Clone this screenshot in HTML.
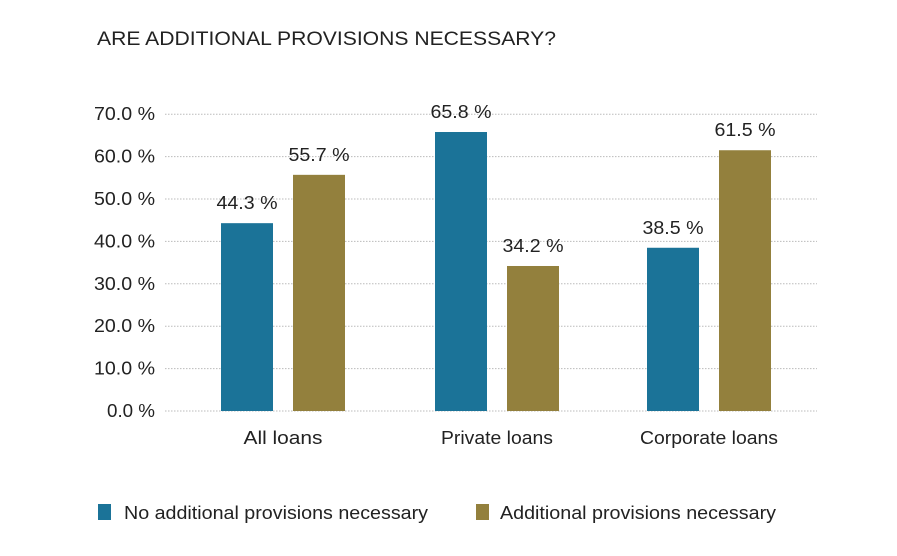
<!DOCTYPE html>
<html><head><meta charset="utf-8"><style>
body{margin:0;background:#fff}
svg text{font-family:"Liberation Sans",sans-serif;fill:#222}
</style></head><body>
<svg width="897" height="551" id="c">
<text x="97" y="45" font-size="19" textLength="459" lengthAdjust="spacingAndGlyphs">ARE ADDITIONAL PROVISIONS NECESSARY?</text>
<g id="grid"></g><g id="bars"></g>
<rect x="98" y="504" width="13" height="16" fill="#1b7398"/>
<text x="124" y="519" font-size="18" textLength="304" lengthAdjust="spacingAndGlyphs">No additional provisions necessary</text>
<rect x="476" y="504" width="13" height="16" fill="#93803d"/>
<text x="500" y="519" font-size="18" textLength="276" lengthAdjust="spacingAndGlyphs">Additional provisions necessary</text>
</svg>
<script>
const categories=["All loans","Private loans","Corporate loans"];
const noValues=[44.3,65.8,38.5];
const yesValues=[55.7,34.2,61.5];
const ticks=[0,10,20,30,40,50,60,70];
const NS="http://www.w3.org/2000/svg";
const y=v=>411-v*4.24;
const centers=[283,497,709];
const catWidths=[79,112,138];
function mk(t,a,p){const e=document.createElementNS(NS,t);for(const k in a)e.setAttribute(k,a[k]);p.appendChild(e);return e;}
const g=document.getElementById('grid'),b=document.getElementById('bars');
ticks.forEach(t=>{
  const l=mk('line',{x1:165,x2:817,y1:y(t),y2:y(t),stroke:'#bbb','stroke-dasharray':'1.5,1.5'},g);
  
  
  const lbl=t.toFixed(1)+' %';
  const tx=mk('text',{x:155,y:y(t)+6,'font-size':18,'text-anchor':'end',textLength:lbl.length>5?61:48,lengthAdjust:'spacingAndGlyphs'},g);
  tx.textContent=lbl;
  
  
});
categories.forEach((c,i)=>{
  const cx=centers[i];
  [[noValues[i],cx-62,'#1b7398'],[yesValues[i],cx+10,'#93803d']].forEach(([v,x,col],j)=>{
    const r=mk('rect',{x:x,y:y(v),width:52,height:411-y(v),fill:col},b);
    
    
    const t=mk('text',{x:x+26,y:y(v)-14,'font-size':18,'text-anchor':'middle',textLength:61,lengthAdjust:'spacingAndGlyphs'},b);
    t.textContent=v.toFixed(1)+' %';
    
    
  });
  const t=mk('text',{x:cx,y:444,'font-size':18,'text-anchor':'middle',textLength:catWidths[i],lengthAdjust:'spacingAndGlyphs'},b);
  t.textContent=c;
  
  
});
</script>
</body></html>
